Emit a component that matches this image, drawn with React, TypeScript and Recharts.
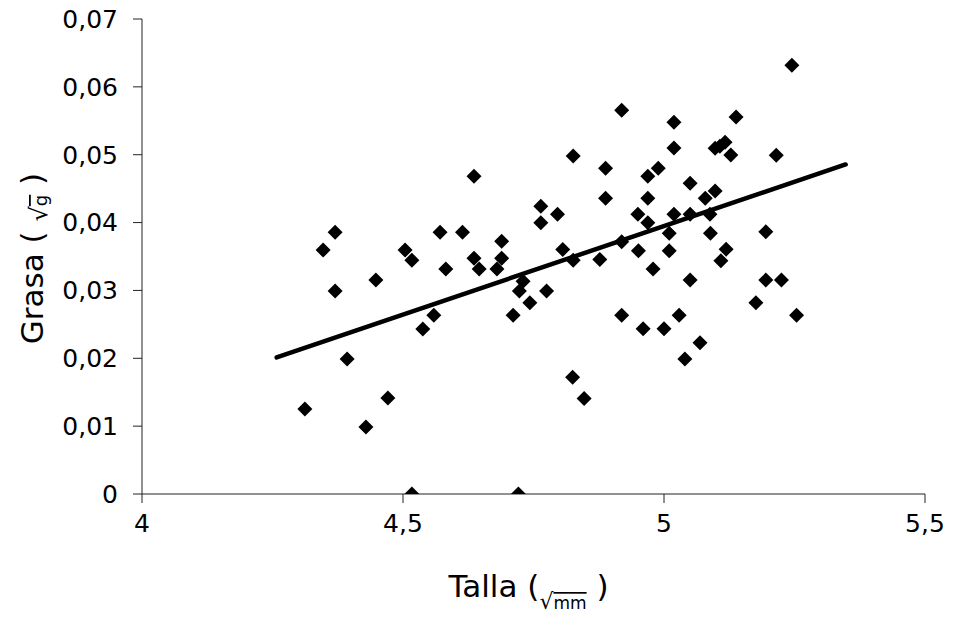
import React from 'react';
import { ScatterChart, Scatter, XAxis, YAxis, Label } from 'recharts';

const tallaValues = [
  4.312, 4.347, 4.370, 4.370, 4.393, 4.429, 4.448, 4.471, 4.504, 4.517,
  4.517, 4.538, 4.559, 4.571, 4.582, 4.614, 4.636, 4.636, 4.646, 4.680,
  4.689, 4.689, 4.711, 4.723, 4.721, 4.730, 4.743, 4.764, 4.764, 4.775,
  4.796, 4.806, 4.826, 4.825, 4.826, 4.847, 4.888, 4.888, 4.877, 4.919,
  4.919, 4.919, 4.950, 4.951, 4.960, 4.969, 4.969, 4.969, 4.979, 4.989,
  5.000, 5.010, 5.010, 5.019, 5.019, 5.019, 5.029, 5.040, 5.050, 5.050,
  5.050, 5.069, 5.079, 5.088, 5.089, 5.098, 5.098, 5.107, 5.109, 5.117,
  5.119, 5.128, 5.138, 5.176, 5.195, 5.195, 5.215, 5.225, 5.245, 5.254,
];

const grasaValues = [
  0.01252, 0.03594, 0.03859, 0.02990, 0.01988, 0.00987, 0.03152, 0.01414, 0.03594, 0.03446,
  0.0, 0.02430, 0.02636, 0.03859, 0.03314, 0.03859, 0.04683, 0.03476, 0.03314, 0.03314,
  0.03726, 0.03476, 0.02636, 0.02990, 0.0, 0.03137, 0.02817, 0.04242, 0.03996, 0.02990,
  0.04124, 0.03604, 0.04982, 0.01719, 0.03446, 0.01409, 0.04801, 0.04359, 0.03457, 0.05655,
  0.03716, 0.02636, 0.04124, 0.03583, 0.02434, 0.04683, 0.04359, 0.03996, 0.03314, 0.04801,
  0.02434, 0.03844, 0.03583, 0.05479, 0.05100, 0.04124, 0.02636, 0.01988, 0.04580, 0.03152,
  0.04124, 0.02228, 0.04359, 0.04124, 0.03844, 0.05096, 0.04467, 0.05125, 0.03436, 0.05184,
  0.03608, 0.04997, 0.05557, 0.02817, 0.03863, 0.03152, 0.04993, 0.03152, 0.06318, 0.02636,
];

const trendTalla = [4.258, 5.348];
const trendGrasa = [0.02013, 0.04856];

const xTicks = [4, 4.5, 5, 5.5];
const yTicks = [0, 0.01, 0.02, 0.03, 0.04, 0.05, 0.06, 0.07];

const points = tallaValues.map((t, i) => ({ x: t, y: grasaValues[i] }));
const trend = trendTalla.map((t, i) => ({ x: t, y: trendGrasa[i] }));

const FONT = "'DejaVu Sans', Verdana, sans-serif";
const fmt = (v: number) => String(v).replace('.', ',');

const Diamond = (props: any) => {
  const { cx, cy } = props;
  if (cx == null || cy == null) return <g />;
  const r = 7.5;
  return (
    <path
      d={`M${cx},${cy - r}L${cx + r},${cy}L${cx},${cy + r}L${cx - r},${cy}Z`}
      fill="#000"
    />
  );
};

const NoShape = () => <g />;

const XLabel = (props: any) => {
  const vb = props.viewBox || { x: 142, y: 494, width: 783, height: 124 };
  const cx = vb.x + vb.width / 2 - 5;
  const y = vb.y + 103;
  return (
    <text x={cx} y={y} textAnchor="middle" fontFamily={FONT} fontSize={31} fill="#000">
      <tspan>Talla (</tspan>
      <tspan fontSize={22} dy={12}>√</tspan>
      <tspan fontSize={17} style={{ textDecoration: 'overline' }}>mm</tspan>
      <tspan dy={-12}>  )</tspan>
    </text>
  );
};

const YLabel = (props: any) => {
  const vb = props.viewBox || { x: 0, y: 19, width: 142, height: 475 };
  const x = vb.x + 43;
  const y = vb.y + vb.height / 2 + 2;
  return (
    <text
      x={x}
      y={y}
      textAnchor="middle"
      transform={`rotate(-90, ${x}, ${y})`}
      fontFamily={FONT}
      fontSize={31}
      fill="#000"
    >
      <tspan>Grasa  ( </tspan>
      <tspan fontSize={24} dy={4}>√</tspan>
      <tspan fontSize={18} style={{ textDecoration: 'overline' }}>g</tspan>
      <tspan dy={-4}>  )</tspan>
    </text>
  );
};

export default function App() {
  return (
    <div style={{ position: 'absolute', left: 0, top: 0, width: 953, height: 618, background: '#fff' }}>
      <ScatterChart
        width={953}
        height={618}
        margin={{ top: 19, right: 28, bottom: 0, left: 0 }}
      >
        <XAxis
          type="number"
          dataKey="x"
          domain={[4, 5.5]}
          ticks={xTicks}
          tickFormatter={fmt}
          height={124}
          stroke="#222"
          tickSize={9}
          tickMargin={11}
          tick={{ fontFamily: FONT, fontSize: 25, fill: '#000' }}
          allowDataOverflow
        >
          <Label content={XLabel} />
        </XAxis>
        <YAxis
          type="number"
          dataKey="y"
          domain={[0, 0.07]}
          ticks={yTicks}
          tickFormatter={fmt}
          width={142}
          stroke="#222"
          tickSize={9}
          tickMargin={15}
          tick={{ fontFamily: FONT, fontSize: 25, fill: '#000' }}
          allowDataOverflow
        >
          <Label content={YLabel} />
        </YAxis>
        <Scatter data={points} shape={Diamond} isAnimationActive={false} />
        <Scatter
          data={trend}
          shape={NoShape}
          line={{ stroke: '#000', strokeWidth: 4.5, strokeLinecap: 'round' }}
          lineType="joint"
          isAnimationActive={false}
        />
      </ScatterChart>
    </div>
  );
}
